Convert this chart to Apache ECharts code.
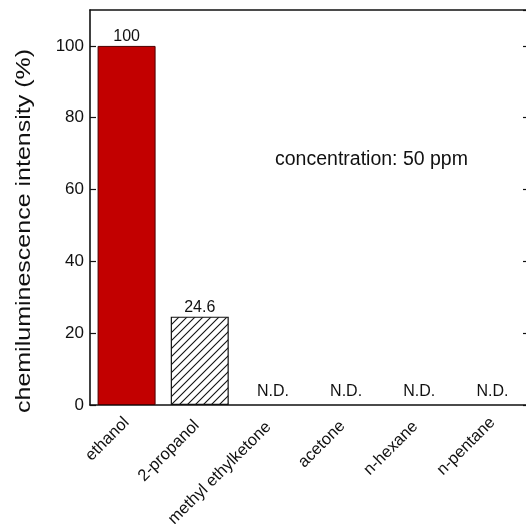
<!DOCTYPE html>
<html>
<head>
<meta charset="utf-8">
<script src="https://cdn.jsdelivr.net/npm/echarts@6/dist/echarts.min.js"></script>
<style>
html,body{margin:0;padding:0;background:#fff;overflow:hidden;}
#chart{width:531px;height:524px;}
</style>
</head>
<body>
<div id="chart"></div>
<script>
const categories = ['ethanol', '2-propanol', 'methyl ethylketone', 'acetone', 'n-hexane', 'n-pentane'];
const intensity = [100, 24.6, 0, 0, 0, 0];
const valueLabels = ['100', '24.6', 'N.D.', 'N.D.', 'N.D.', 'N.D.'];
const yMin = 0, yMax = 110, yInterval = 20;
const yTitle = 'chemiluminescence intensity (%)';
const noteText = 'concentration: 50 ppm';

// style only: small horizontal nudges of the rotated category labels (px)
const labelNudgeX = [0, -6, -9, -7, -8, 0];

const FONT = '"Liberation Sans", Arial, Helvetica, sans-serif';
const TXT = '#111';

// hatch pattern
const hatch = document.createElement('canvas');
hatch.width = 8; hatch.height = 8;
const hc = hatch.getContext('2d');
hc.fillStyle = '#fff';
hc.fillRect(0, 0, 8, 8);
hc.strokeStyle = '#111';
hc.lineWidth = 1.1;
hc.beginPath();
hc.moveTo(0, 8); hc.lineTo(8, 0);
hc.moveTo(-2, 2); hc.lineTo(2, -2);
hc.moveTo(6, 10); hc.lineTo(10, 6);
hc.stroke();

const styles = [
  { color: '#c20000', borderColor: '#4a0000', borderWidth: 1 },
  { color: { image: hatch, repeat: 'repeat' }, borderColor: '#111', borderWidth: 1.2 },
  { color: 'transparent' }, { color: 'transparent' }, { color: 'transparent' }, { color: 'transparent' }
];

const catData = categories.map((c, i) => {
  const a = Math.abs(labelNudgeX[i]) / Math.SQRT2;
  if (!a) return c;
  return { value: c, textStyle: { padding: [0, a, 2 * a, 0] } };
});

const chart = echarts.init(document.getElementById('chart'), null, { renderer: 'canvas' });
const axisLineStyle = { color: '#111', width: 1.6 };
const tickStyle = { color: '#111', width: 1.2 };
chart.setOption({
  backgroundColor: '#fff',
  animation: false,
  grid: { left: 90, top: 10, width: 439, height: 395, containLabel: false, outerBoundsMode: 'none' },
  xAxis: [
    {
      type: 'category', data: catData, position: 'bottom',
      axisLine: { onZero: false, lineStyle: axisLineStyle },
      axisTick: { inside: true, length: 5, lineStyle: tickStyle },
      axisLabel: { rotate: 45, interval: 0, fontSize: 16.5, margin: 15, color: TXT, fontFamily: FONT },
      splitLine: { show: false }
    },
    {
      type: 'category', data: categories, position: 'top',
      axisLine: { onZero: false, lineStyle: axisLineStyle },
      axisTick: { inside: true, length: 5, lineStyle: tickStyle },
      axisLabel: { show: false },
      splitLine: { show: false }
    }
  ],
  yAxis: [
    {
      type: 'value', min: yMin, max: yMax, interval: yInterval, position: 'left',
      axisLine: { show: true, onZero: false, lineStyle: axisLineStyle },
      axisTick: { show: true, inside: true, length: 6, lineStyle: tickStyle },
      axisLabel: { fontSize: 17, margin: 6, color: TXT, fontFamily: FONT, showMaxLabel: false },
      splitLine: { show: false }
    },
    {
      type: 'value', min: yMin, max: yMax, interval: yInterval, position: 'right',
      axisLine: { show: true, onZero: false, lineStyle: axisLineStyle },
      axisTick: { show: true, inside: true, length: 6, lineStyle: tickStyle },
      axisLabel: { show: false },
      splitLine: { show: false }
    }
  ],
  series: [{
    type: 'bar',
    xAxisIndex: 0, yAxisIndex: 0,
    barWidth: 58,
    data: intensity.map((v, i) => ({
      value: v,
      itemStyle: styles[i],
      label: { distance: v > 0 ? 1 : 5 }
    })),
    label: {
      show: true, position: 'top',
      fontSize: 16, color: TXT, fontFamily: FONT,
      formatter: p => valueLabels[p.dataIndex]
    }
  }],
  graphic: [
    {
      type: 'text', x: 24, y: 231, rotation: Math.PI / 2, scaleX: 1.25, scaleY: 1,
      style: { text: yTitle, fontSize: 20, fontFamily: FONT, fill: TXT, align: 'center', verticalAlign: 'middle' }
    },
    {
      type: 'text', x: 275, y: 160,
      style: { text: noteText, fontSize: 19.5, fontFamily: FONT, fill: TXT, align: 'left', verticalAlign: 'middle' }
    }
  ]
});
</script>
</body>
</html>
